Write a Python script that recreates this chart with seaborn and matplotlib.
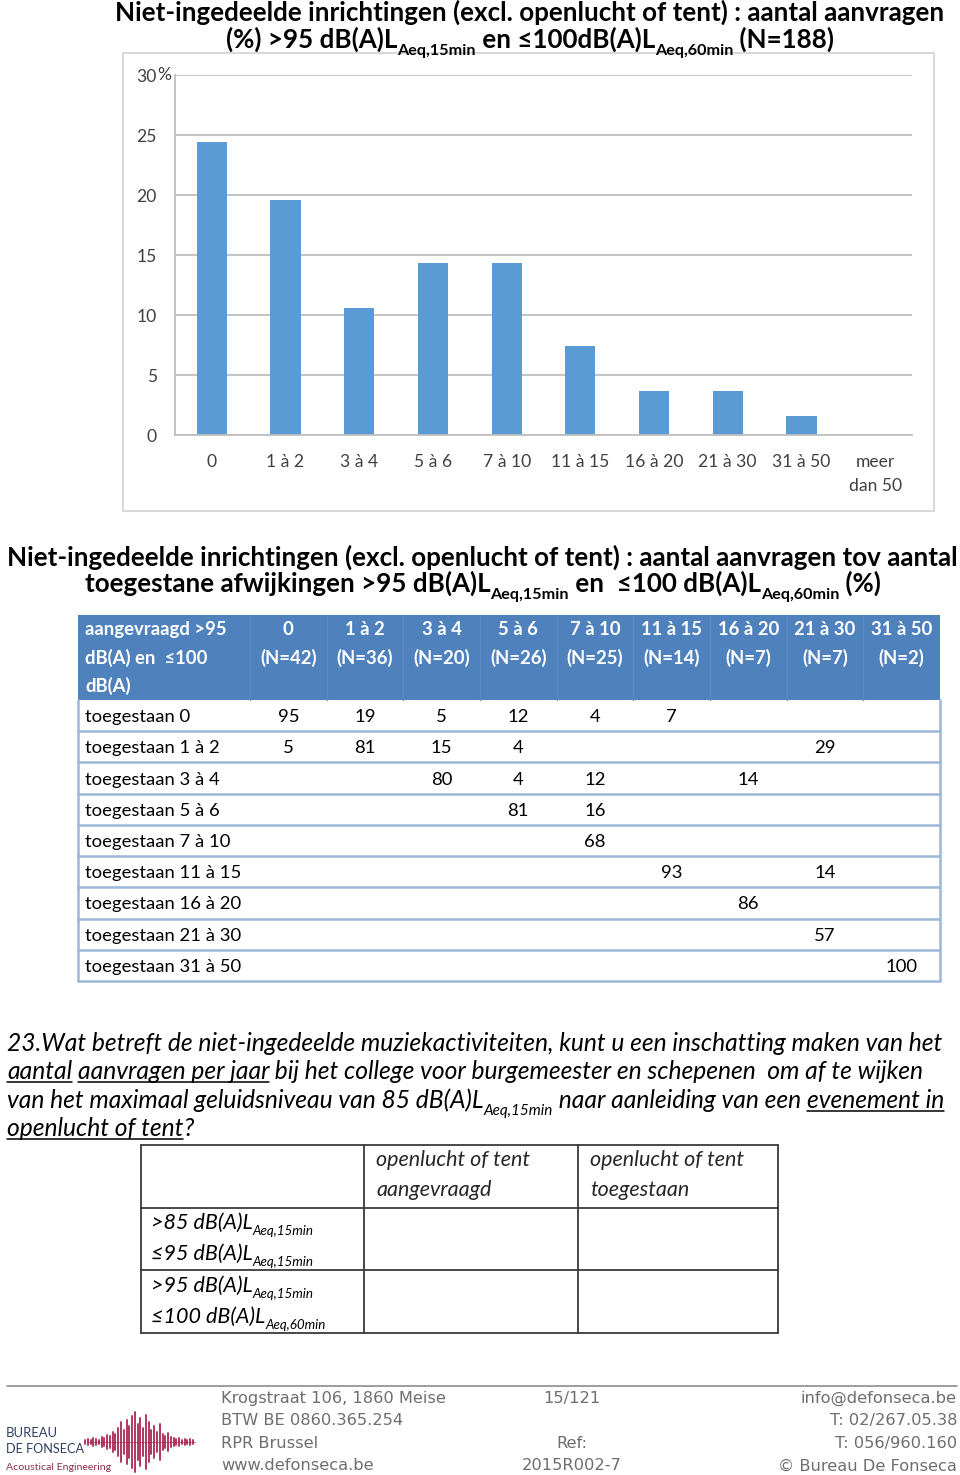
import matplotlib
matplotlib.use("Agg")
import matplotlib.pyplot as plt
import seaborn as sns
import pandas as pd
from matplotlib.patches import Rectangle

# ------------------------------------------------------------------ data
categories = ["0", "1 à 2", "3 à 4", "5 à 6", "7 à 10", "11 à 15",
              "16 à 20", "21 à 30", "31 à 50", "meer\ndan 50"]
pct_requests = [24.4, 19.6, 10.6, 14.3, 14.3, 7.4, 3.7, 3.7, 1.6, 0.0]
y_ticks = [0, 5, 10, 15, 20, 25, 30]

tbl_col_labels = ["0", "1 à 2", "3 à 4", "5 à 6", "7 à 10", "11 à 15",
                  "16 à 20", "21 à 30", "31 à 50"]
tbl_col_n = [42, 36, 20, 26, 25, 14, 7, 7, 2]
tbl_corner = ["aangevraagd >95", "dB(A) en  ≤100", "dB(A)"]
tbl_row_labels = ["toegestaan 0", "toegestaan 1 à 2", "toegestaan 3 à 4",
                  "toegestaan 5 à 6", "toegestaan 7 à 10", "toegestaan 11 à 15",
                  "toegestaan 16 à 20", "toegestaan 21 à 30", "toegestaan 31 à 50"]
tbl_values = [
    [95, 19, 5, 12, 4, 7, None, None, None],
    [5, 81, 15, 4, None, None, None, 29, None],
    [None, None, 80, 4, 12, None, 14, None, None],
    [None, None, None, 81, 16, None, None, None, None],
    [None, None, None, None, 68, None, None, None, None],
    [None, None, None, None, None, 93, None, 14, None],
    [None, None, None, None, None, None, 86, None, None],
    [None, None, None, None, None, None, None, 57, None],
    [None, None, None, None, None, None, None, None, 100],
]

q_col_labels = [["openlucht of tent", "aangevraagd"], ["openlucht of tent", "toegestaan"]]
q_row_labels = [[(">85 dB(A)L", "Aeq,15min"), ("≤95 dB(A)L", "Aeq,15min")],
                [(">95 dB(A)L", "Aeq,15min"), ("≤100 dB(A)L", "Aeq,60min")]]

footer_left = ["Krogstraat 106, 1860 Meise", "BTW BE 0860.365.254", "RPR Brussel", "www.defonseca.be"]
footer_mid = ["15/121", "", "Ref:", "2015R002-7"]
footer_right = ["info@defonseca.be", "T: 02/267.05.38", "T: 056/960.160", "© Bureau De Fonseca"]
logo_wave = [2, 3, 2, 4, 3, 2, 5, 4, 7, 6, 10, 8, 14, 20, 12, 22, 16, 26, 30, 18,
             24, 14, 27, 20, 12, 16, 10, 18, 8, 6, 9, 5, 4, 3, 4, 2, 3, 2, 3, 2]

# ------------------------------------------------------------------ setup
sns.set_theme(style="white")
LATO = ["Lato", "DejaVu Sans"]
DEJ = ["DejaVu Sans"]
plt.rcParams["font.family"] = LATO
PX = 100 / 72.0

fig = plt.figure(figsize=(9.6, 14.75), dpi=100)
fig.patch.set_facecolor("white")
pg = fig.add_axes([0, 0, 1, 1], zorder=0)
pg.set_xlim(0, 960)
pg.set_ylim(1475, 0)
pg.axis("off")
R = fig.canvas.get_renderer()


def measure(s, size, family=LATO, weight="normal", style="normal"):
    kw = dict(fontsize=size, family=family, weight=weight, style=style)
    a = pg.text(0, 0, "|" + s + "|", **kw)
    b = pg.text(0, 0, "||", **kw)
    w = a.get_window_extent(R).width - b.get_window_extent(R).width
    a.remove(); b.remove()
    return w


def runs_width(runs, size, sub=0.62, **kw):
    return sum(measure(t, size if k == "n" else size * sub, **kw) for t, k, u in runs)


def fit(runs, target, **kw):
    base = 12.0
    if isinstance(runs, str):
        return base * target / measure(runs, base, **kw)
    return base * target / runs_width(runs, base, **kw)


def draw_runs(x, y, runs, size, ha="left", color="black", sub=0.62, **kw):
    arts = []
    cx = x
    for text, kind, ul in runs:
        fs = size if kind == "n" else size * sub
        dy = 0 if kind == "n" else size * PX * 0.30
        w = measure(text, fs, **kw)
        t = pg.text(cx, y + dy, text, fontsize=fs, color=color, va="baseline", ha="left",
                    family=kw.get("family", LATO), weight=kw.get("weight", "normal"),
                    style=kw.get("style", "normal"))
        arts.append((t, cx, w, ul))
        cx += w
    total = cx - x
    shift = {"left": 0, "center": -total / 2, "right": -total}[ha]
    for t, x0, w, ul in arts:
        t.set_x(x0 + shift)
        if ul:
            pg.plot([x0 + shift, x0 + shift + w], [y + 3, y + 3], color=color, lw=1.1)
    return total


# ------------------------------------------------------------------ title 1
t1a = [("Niet-ingedeelde inrichtingen (excl. openlucht of tent) : aantal aanvragen", "n", False)]
t1b = [("(%) >95 dB(A)L", "n", False), ("Aeq,15min", "s", False),
       (" en ≤100dB(A)L", "n", False), ("Aeq,60min", "s", False), (" (N=188)", "n", False)]
s1 = fit(t1a, 824, weight="bold")
draw_runs(530, 20.5, t1a, s1, ha="center", weight="bold")
draw_runs(530, 47.5, t1b, s1, ha="center", weight="bold")

# ------------------------------------------------------------------ bar chart
pg.add_patch(Rectangle((123, 53), 811, 458, fill=False, ec="#d9d9d9", lw=1.5))
ax = fig.add_axes([175 / 960, 1 - 435 / 1475, 737 / 960, 360 / 1475], zorder=1)
df = pd.DataFrame({"cat": categories, "pct": pct_requests})
sns.barplot(data=df, x="cat", y="pct", color="#5B9BD5", saturation=1, width=0.41,
            linewidth=0, ax=ax)
ax.set_xlim(-0.5, len(categories) - 0.5)
ax.set_ylim(0, 30)
ax.set_yticks(y_ticks)
ax.set_yticklabels([str(v) for v in y_ticks])
ax.set_xlabel("")
ax.set_ylabel("")
ax.grid(axis="y", color="#bfbfbf", lw=1.3)
ax.grid(axis="x", visible=False)
ax.set_axisbelow(True)
for s in ["top", "right"]:
    ax.spines[s].set_visible(False)
for s in ["left", "bottom"]:
    ax.spines[s].set_color("#bfbfbf")
    ax.spines[s].set_linewidth(1.3)
tick_fs = fit("21 à 30", 58)
ax.tick_params(axis="y", length=0, pad=13, labelsize=tick_fs, labelcolor="#404040")
ax.tick_params(axis="x", which="major", length=0, pad=14, labelsize=tick_fs, labelcolor="#404040")
ax.set_xticks([i - 0.5 for i in range(len(categories) + 1)], minor=True)
ax.tick_params(axis="x", which="minor", length=4, width=1.3, color="#bfbfbf", direction="out")
for lab in ax.get_xticklabels():
    lab.set_linespacing(1.55)
    lab.set_va("top")
ax.annotate("%", xy=(0, 30), xycoords=("axes fraction", "data"), xytext=(-13, 0),
            textcoords="offset points", va="center", ha="left", fontsize=tick_fs, color="#404040")

# ------------------------------------------------------------------ title 2
t2a = [("Niet-ingedeelde inrichtingen (excl. openlucht of tent) : aantal aanvragen tov aantal", "n", False)]
t2b = [("toegestane afwijkingen >95 dB(A)L", "n", False), ("Aeq,15min", "s", False),
       (" en  ≤100 dB(A)L", "n", False), ("Aeq,60min", "s", False), (" (%)", "n", False)]
s2 = fit(t2a, 945, weight="bold")
draw_runs(482, 565.5, t2a, s2, ha="center", weight="bold")
draw_runs(483, 591.5, t2b, s2, ha="center", weight="bold")

# ------------------------------------------------------------------ table
tx0, tx1, tc0 = 78, 940, 250
hy0, hy1 = 615, 700
row_h = (981 - hy1) / len(tbl_row_labels)
col_w = (tx1 - tc0) / len(tbl_col_labels)
line_c = "#9db7da"
pg.add_patch(Rectangle((tx0, hy0), tx1 - tx0, hy1 - hy0, fc="#4F81BD", ec="none"))
for j in range(len(tbl_col_labels)):
    pg.plot([tc0 + j * col_w] * 2, [hy0, hy1], color="#5d8ac4", lw=1)
tfs = fit("toegestaan 31 à 50", 155)
for k, line in enumerate(tbl_corner):
    pg.text(85, 628 + k * 28, line, fontsize=tfs, weight="bold", color="white",
            va="center_baseline", ha="left")
for j, (lab, n) in enumerate(zip(tbl_col_labels, tbl_col_n)):
    cx = tc0 + (j + 0.5) * col_w
    pg.text(cx, 628, lab, fontsize=tfs, weight="bold", color="white", va="center_baseline", ha="center")
    pg.text(cx, 656, f"(N={n})", fontsize=tfs, weight="bold", color="white", va="center_baseline", ha="center")
for i, (lab, vals) in enumerate(zip(tbl_row_labels, tbl_values)):
    yc = hy1 + (i + 0.5) * row_h
    pg.text(85, yc, lab, fontsize=tfs, color="black", va="center_baseline", ha="left")
    for j, v in enumerate(vals):
        if v is not None:
            pg.text(tc0 + (j + 0.5) * col_w, yc, str(v), fontsize=tfs, color="black",
                    va="center_baseline", ha="center")
    pg.plot([tx0, tx1], [hy1 + (i + 1) * row_h] * 2, color=line_c, lw=1.8)
pg.plot([tx0, tx0], [hy1, 981], color=line_c, lw=1.8)
pg.plot([tx1, tx1], [hy1, 981], color=line_c, lw=1.8)

# ------------------------------------------------------------------ question text
q_lines = [
    [("23.Wat betreft de niet-ingedeelde muziekactiviteiten, kunt u een inschatting maken van het", "n", False)],
    [("aantal", "n", True), (" ", "n", False), ("aanvragen per jaar", "n", True),
     (" bij het college voor burgemeester en schepenen  om af te wijken", "n", False)],
    [("van het maximaal geluidsniveau van 85 dB(A)L", "n", False), ("Aeq,15min", "s", False),
     (" naar aanleiding van een ", "n", False), ("evenement in", "n", True)],
    [("openlucht of tent", "n", True), ("?", "n", False)],
]
qs = fit(q_lines[0], 933, style="italic")
for k, runs in enumerate(q_lines):
    draw_runs(7, 1051 + k * 28.3, runs, qs, style="italic")

# ------------------------------------------------------------------ small table
sx = [141, 364, 578, 778]
sy = [1145, 1208, 1270, 1333]
for xv in sx:
    pg.plot([xv, xv], [sy[0], sy[-1]], color="#3a3a3a", lw=1.3)
for yv in sy:
    pg.plot([sx[0], sx[-1]], [yv, yv], color="#3a3a3a", lw=1.3)
ss = fit("openlucht of tent", 154, style="italic")
for j, lines in enumerate(q_col_labels):
    for k, line in enumerate(lines):
        pg.text(sx[j + 1] + 12, 1166 + k * 30, line, fontsize=ss, style="italic",
                va="baseline", ha="left")
for i, rows in enumerate(q_row_labels):
    for k, (main, subs) in enumerate(rows):
        draw_runs(151, 1229 + i * 63 + k * 31, [(main, "n", False), (subs, "s", False)],
                  ss, style="italic")

# ------------------------------------------------------------------ footer
pg.plot([7, 957], [1386, 1386], color="#8c8c8c", lw=1.2)
fs_f = fit(footer_left[0], 225, family=DEJ)
for k in range(4):
    yy = 1398 + k * 22.6
    pg.text(221, yy, footer_left[k], fontsize=fs_f, family=DEJ, color="#6e6e6e", va="center", ha="left")
    pg.text(572, yy, footer_mid[k], fontsize=fs_f, family=DEJ, color="#6e6e6e", va="center", ha="center")
    pg.text(957, yy, footer_right[k], fontsize=fs_f, family=DEJ, color="#6e6e6e", va="center", ha="right")

# logo
pg.text(6, 1433, "BUREAU", fontsize=fit("BUREAU", 52), color="#2f3f63", va="center", ha="left")
pg.text(6, 1449, "DE FONSECA", fontsize=fit("DE FONSECA", 78), color="#2f3f63", va="center", ha="left")
pg.text(6, 1467, "Acoustical Engineering", fontsize=fit("Acoustical Engineering", 104),
        color="#8c2f50", va="center", ha="left")
n_w = len(logo_wave)
for k, a in enumerate(logo_wave):
    xx = 85 + k * (108 / (n_w - 1))
    pg.plot([xx, xx], [1442 - a, 1442 + a], color="#a8234f", lw=1.4, alpha=0.9)
pg.plot([88, 195], [1442, 1442], color="#a8234f", lw=0.8, alpha=0.6)

fig.savefig("out.png", dpi=100, facecolor="white")
